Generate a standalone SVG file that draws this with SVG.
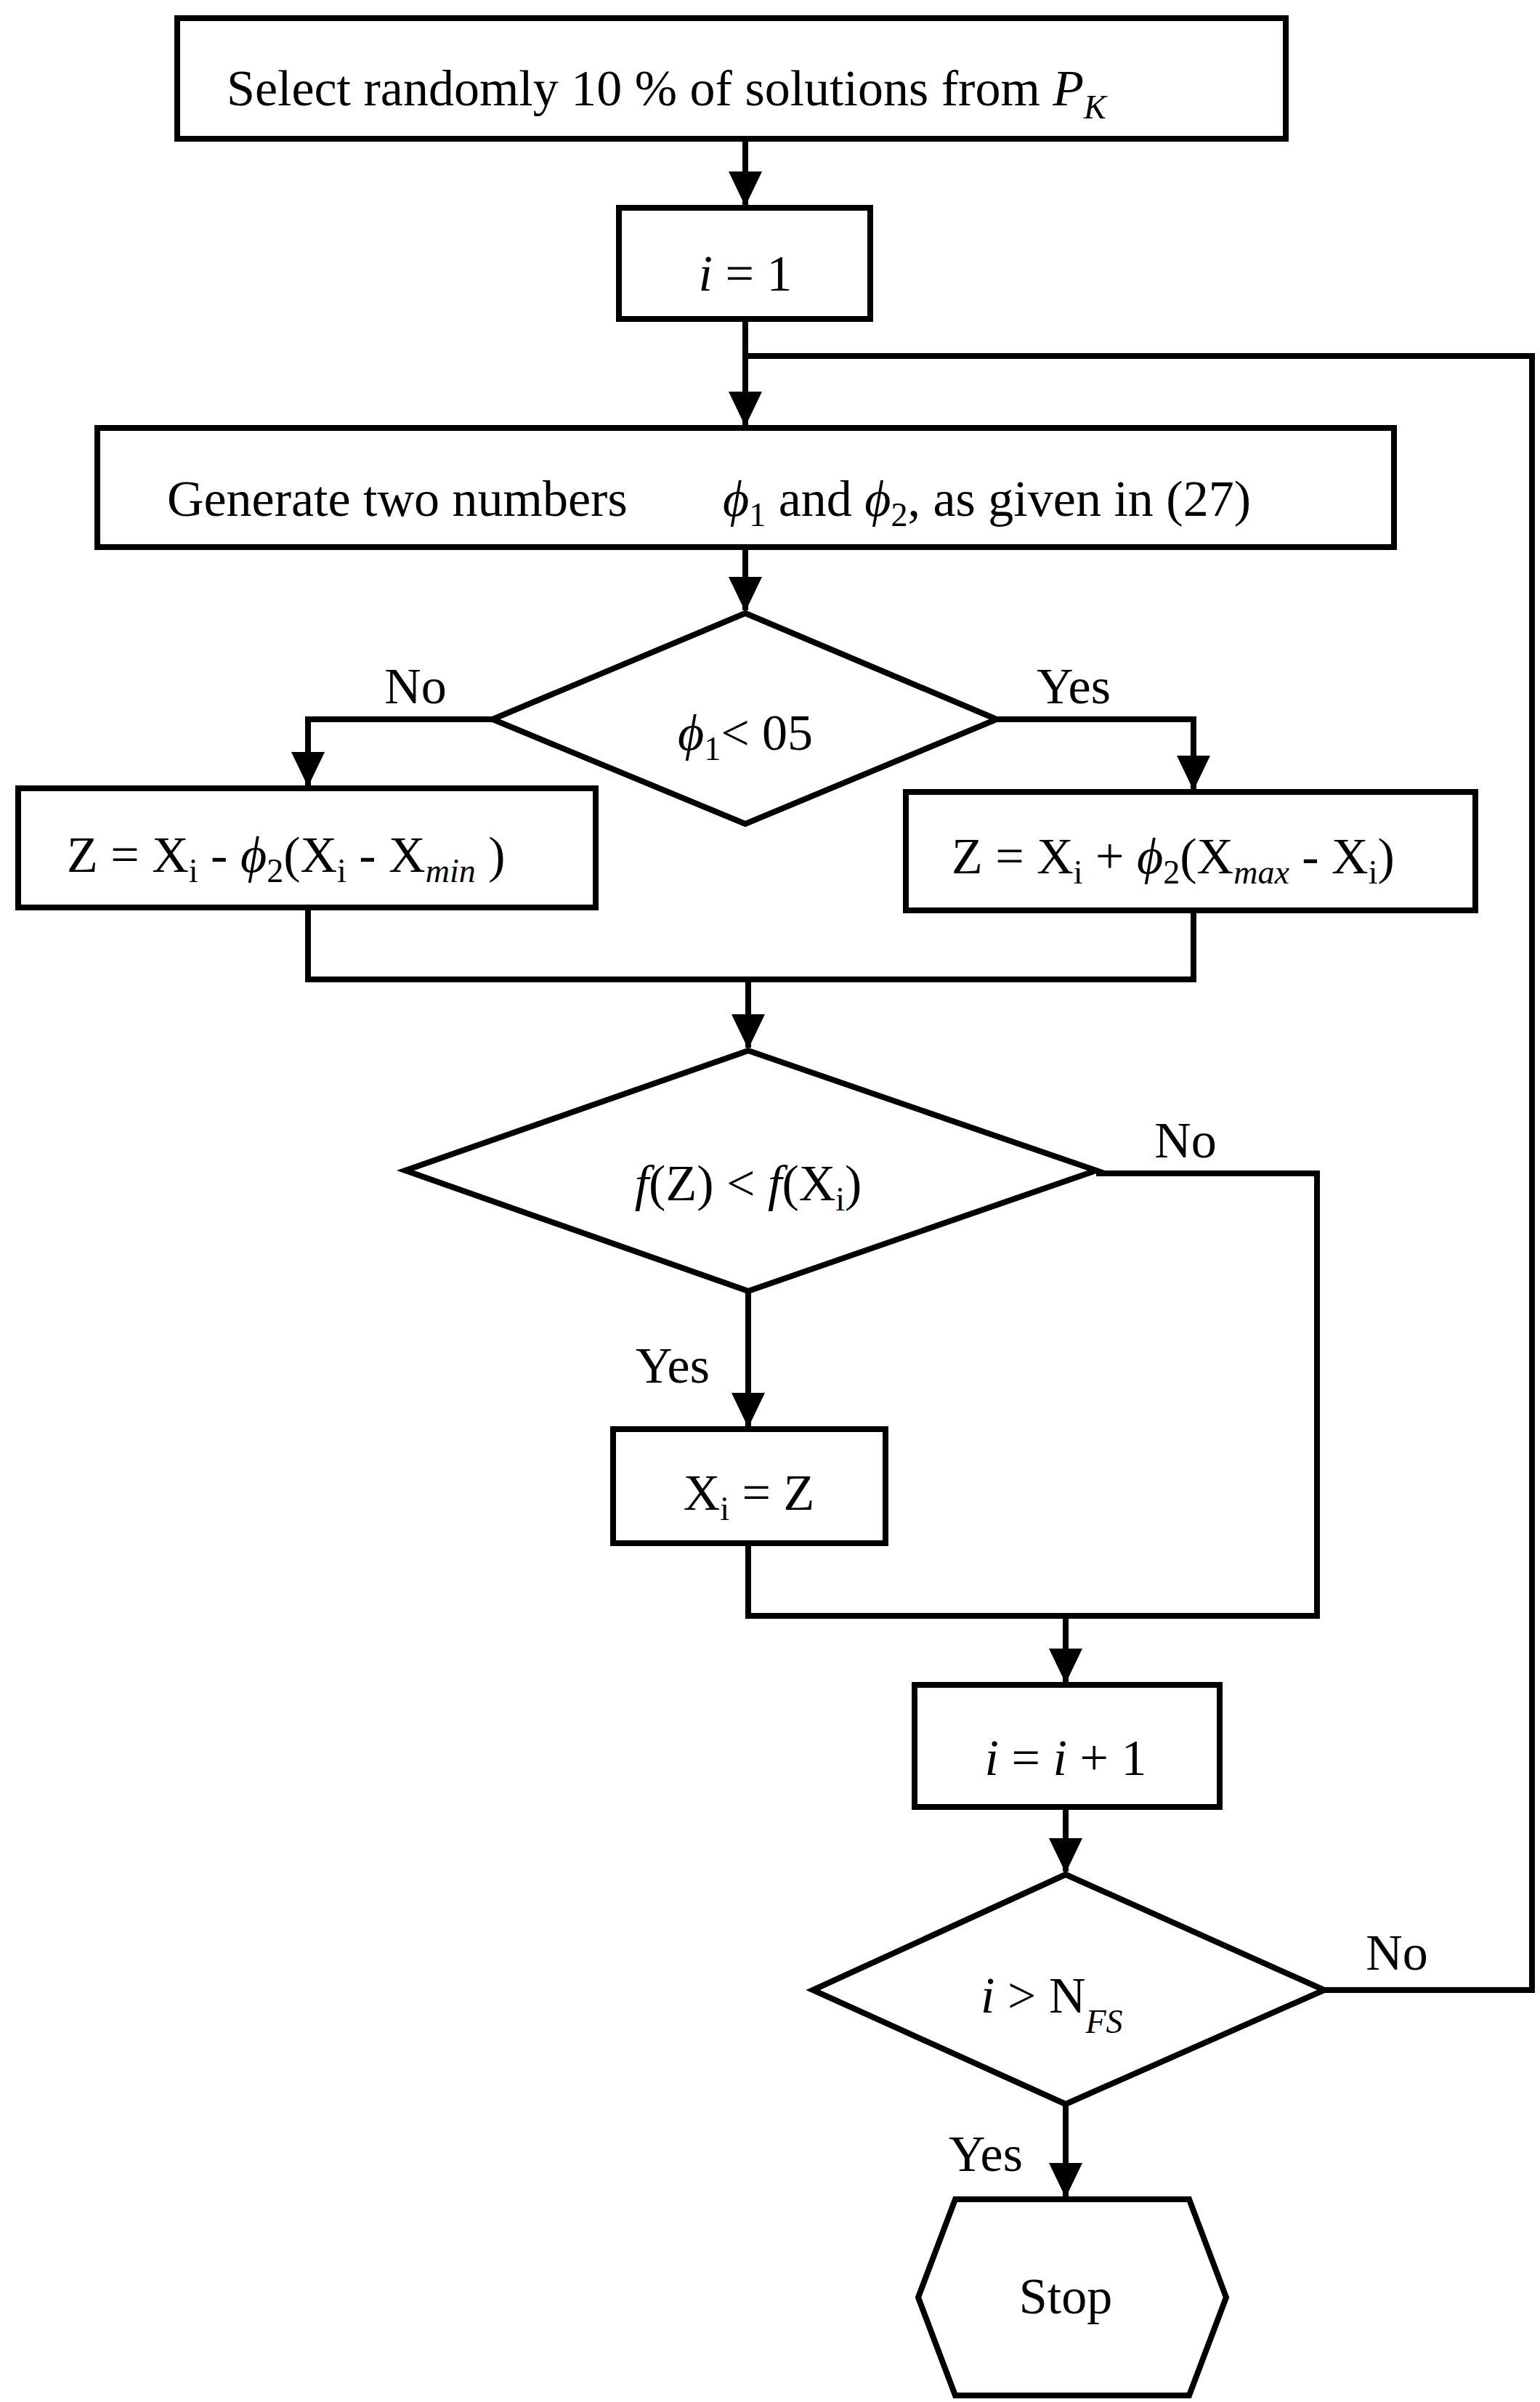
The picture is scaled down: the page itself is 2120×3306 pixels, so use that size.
<svg xmlns="http://www.w3.org/2000/svg" width="2120" height="3306" viewBox="0 0 2120 3306">
<style>
.n{fill:#fff;stroke:#000;stroke-width:8}
.c{fill:none;stroke:#000;stroke-width:8}
text{font-family:"Liberation Serif","DejaVu Serif",serif;font-size:70px;fill:#000}
.i{font-style:italic}
.s{font-size:46px}
</style>
<defs>
<marker id="b" markerUnits="userSpaceOnUse" markerWidth="48" markerHeight="46" refX="46" refY="23" orient="auto" viewBox="0 0 48 46">
<path d="M0,0 L48,23 L0,46 Z" fill="#000"/>
</marker>
</defs>
<rect width="2120" height="3306" fill="#fff"/>
<g id="connectors">
<path class="c" d="M1026,191 V282" marker-end="url(#b)"/>
<path class="c" d="M1026,439 V585" marker-end="url(#b)"/>
<path class="c" d="M1026,753 V840" marker-end="url(#b)"/>
<path class="c" d="M678,990 H424 V1081" marker-end="url(#b)"/>
<path class="c" d="M1372,990 H1643 V1086" marker-end="url(#b)"/>
<path class="c" d="M424,1249 V1348 H1643 V1253"/>
<path class="c" d="M1030,1348 V1442" marker-end="url(#b)"/>
<path class="c" d="M1030,1777 V1963" marker-end="url(#b)"/>
<path class="c" d="M1509,1615 H1813 V2224 H1030 V2124"/>
<path class="c" d="M1467,2224 V2315" marker-end="url(#b)"/>
<path class="c" d="M1467,2487 V2576" marker-end="url(#b)"/>
<path class="c" d="M1467,2896 V3023" marker-end="url(#b)"/>
<path class="c" d="M1823,2739 H2109 V490 H1026"/>
</g>
<g id="n1"><rect class="n" x="244" y="25" width="1526" height="166"/>
<text x="312" y="145">Select randomly 10 % of solutions from <tspan class="i">P</tspan><tspan class="i s" dy="18">K</tspan></text></g>
<g id="n2"><rect class="n" x="852" y="286" width="346" height="153"/>
<text x="1026" y="400" text-anchor="middle"><tspan class="i">i</tspan> = 1</text></g>
<g id="n3"><rect class="n" x="134" y="589" width="1785" height="164"/>
<text x="230" y="710">Generate two numbers</text>
<text x="995" y="710"><tspan class="i">ϕ</tspan><tspan class="s" dy="14">1</tspan><tspan dy="-14">  and </tspan><tspan class="i">ϕ</tspan><tspan class="s" dy="14">2</tspan><tspan dy="-14">, as given in (27)</tspan></text></g>
<g id="d1"><polygon class="n" points="1026,844 1372,990 1026,1134 678,990"/>
<text x="1026" y="1032" text-anchor="middle"><tspan class="i">ϕ</tspan><tspan class="s" dy="14">1</tspan><tspan dy="-14">&lt; 05</tspan></text></g>
<g id="n4"><rect class="n" x="25" y="1085" width="795" height="164"/>
<text x="92" y="1200">Z = X<tspan class="s" dy="14">i</tspan><tspan dy="-14"> - </tspan><tspan class="i">ϕ</tspan><tspan class="s" dy="14">2</tspan><tspan dy="-14">(X</tspan><tspan class="s" dy="14">i</tspan><tspan dy="-14">  - X</tspan><tspan class="i s" dy="14">min</tspan><tspan dy="-14"> )</tspan></text></g>
<g id="n5"><rect class="n" x="1247" y="1090" width="784" height="163"/>
<text x="1310" y="1202">Z = X<tspan class="s" dy="14">i</tspan><tspan dy="-14"> + </tspan><tspan class="i">ϕ</tspan><tspan class="s" dy="14">2</tspan><tspan dy="-14">(X</tspan><tspan class="i s" dy="14">max</tspan><tspan dy="-14">  - X</tspan><tspan class="s" dy="14">i</tspan><tspan dy="-14">)</tspan></text></g>
<g id="d2"><polygon class="n" points="1030,1446 1509,1611 1030,1777 558,1611"/>
<text x="1030" y="1652" text-anchor="middle"><tspan class="i">f</tspan>(Z) &lt; <tspan class="i">f</tspan>(X<tspan class="s" dy="14">i</tspan><tspan dy="-14">)</tspan></text></g>
<g id="n6"><rect class="n" x="844" y="1967" width="375" height="157"/>
<text x="1031" y="2078" text-anchor="middle">X<tspan class="s" dy="14">i</tspan><tspan dy="-14"> = Z</tspan></text></g>
<g id="n7"><rect class="n" x="1259" y="2319" width="420" height="168"/>
<text x="1467" y="2443" text-anchor="middle"><tspan class="i">i</tspan> = <tspan class="i">i</tspan> + 1</text></g>
<g id="d3"><polygon class="n" points="1467,2580 1823,2739 1467,2896 1119,2739"/>
<text x="1350" y="2770"><tspan class="i">i</tspan> &gt;   N<tspan class="i s" dy="28">FS</tspan></text></g>
<g id="n8"><polygon class="n" points="1315,3027 1637,3027 1688,3162 1637,3297 1315,3297 1264,3162"/>
<text x="1467" y="3184" text-anchor="middle">Stop</text></g>
<g id="labels">
<text x="572" y="968" text-anchor="middle">No</text>
<text x="1478" y="968" text-anchor="middle">Yes</text>
<text x="1632" y="1593" text-anchor="middle">No</text>
<text x="926" y="1903" text-anchor="middle">Yes</text>
<text x="1923" y="2711" text-anchor="middle">No</text>
<text x="1357" y="2988" text-anchor="middle">Yes</text>
</g>
</svg>
